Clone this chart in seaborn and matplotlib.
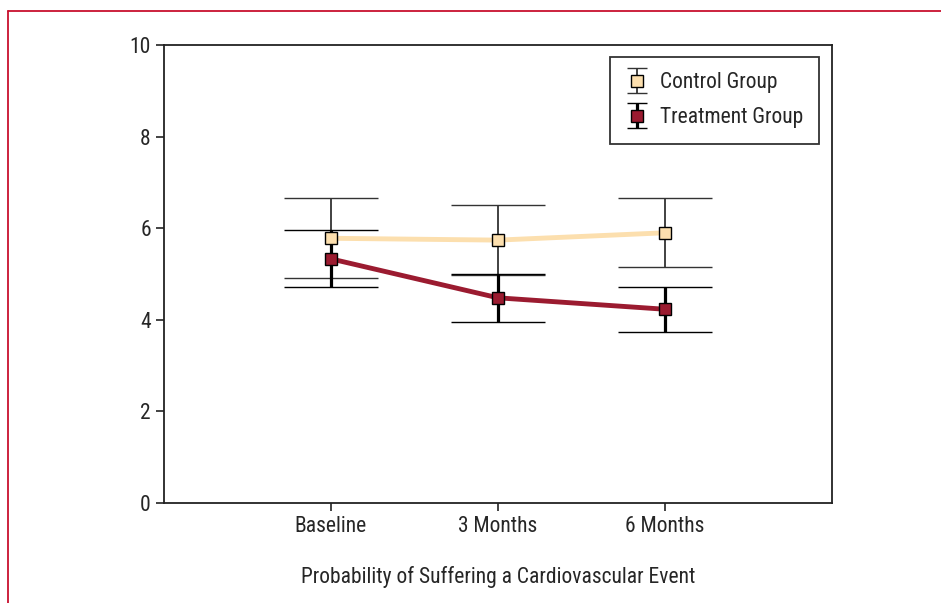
import matplotlib
matplotlib.use("Agg")
import matplotlib.pyplot as plt
from matplotlib import font_manager
from matplotlib.lines import Line2D
from matplotlib.legend_handler import HandlerErrorbar
import seaborn as sns
import pandas as pd
import numpy as np

timepoints = ["Baseline", "3 Months", "6 Months"]
control_mean = [5.78, 5.74, 5.90]
control_err = [0.87, 0.77, 0.75]
treatment_mean = [5.33, 4.48, 4.23]
treatment_err = [0.62, 0.53, 0.49]
groups = ["Control Group", "Treatment Group"]
yticks = [0, 2, 4, 6, 8, 10]
xlabel = "Probability of Suffering a Cardiovascular Event"

sns.set_style("ticks")
names = {f.name for f in font_manager.fontManager.ttflist}
fam = "Roboto"
for cand in ["Roboto Condensed", "Liberation Sans Narrow", "Nimbus Sans Narrow",
             "Archivo Narrow", "Barlow Semi Condensed"]:
    if cand in names:
        fam = cand
        break
plt.rcParams["font.family"] = [fam, "DejaVu Sans"]

df = pd.DataFrame({
    "time": timepoints * 2,
    "x": list(range(3)) * 2,
    "value": control_mean + treatment_mean,
    "group": [groups[0]] * 3 + [groups[1]] * 3,
})

ctrl_color = "#FCDFAE"
trt_color = "#9B1B30"
fs = 15.5

fig = plt.figure(figsize=(9.41, 6.03), dpi=100)
ax = fig.add_axes([164 / 941, 1 - 503 / 603, (832 - 164) / 941, (503 - 45) / 603])

sns.lineplot(data=df, x="x", y="value", hue="group", palette=[ctrl_color, trt_color],
             linewidth=3.5, legend=False, ax=ax, zorder=3)

xs = np.arange(3)
eb_c = ax.errorbar(xs, control_mean, yerr=control_err, fmt="s", ms=8, mfc=ctrl_color,
                   mec="black", mew=1, ecolor="#333333", elinewidth=1.3, capsize=34,
                   capthick=1.3, zorder=2)
eb_t = ax.errorbar(xs, treatment_mean, yerr=treatment_err, fmt="s", ms=8, mfc=trt_color,
                   mec="black", mew=1, ecolor="black", elinewidth=2.3, capsize=34,
                   capthick=2.3, zorder=2)
for line in [eb_c.lines[0], eb_t.lines[0]]:
    line.set_zorder(4)

ax.set_xlim(-1, 3)
ax.set_ylim(0, 10)
ax.set_yticks(yticks)
ax.set_xticks(xs)
ax.set_xticklabels(timepoints)
ax.set_xlabel(xlabel, fontsize=fs, labelpad=21)
ax.set_ylabel("")
ax.tick_params(axis="both", labelsize=fs, length=6, width=1.2, direction="out", color="#222222")
for s in ax.spines.values():
    s.set_linewidth(1.3)
    s.set_color("#222222")

# legend handles (off-view dummy errorbars with small caps)
h_c = ax.errorbar([np.nan], [np.nan], yerr=[0.5], fmt="s", ms=8, mfc=ctrl_color, mec="black",
                  mew=1, ecolor="#333333", elinewidth=1.3, capsize=7.5, capthick=1.3)
h_t = ax.errorbar([np.nan], [np.nan], yerr=[0.5], fmt="s", ms=8, mfc=trt_color, mec="black",
                  mew=1, ecolor="black", elinewidth=2.3, capsize=7.5, capthick=2.3)
leg = ax.legend([h_c, h_t], groups, loc="upper right", bbox_to_anchor=(0.9805, 0.974),
                borderaxespad=0, fontsize=fs, frameon=True, fancybox=False, edgecolor="black",
                handlelength=1.0, handletextpad=0.6, borderpad=0.72, labelspacing=0.65,
                handler_map={type(h_c): HandlerErrorbar(yerr_size=0.58)})
leg.get_frame().set_linewidth(1.3)

red = "#C8102E"
fig.add_artist(Line2D([8 / 941, 1], [1 - 10.5 / 603, 1 - 10.5 / 603], color=red, lw=1.3,
                      transform=fig.transFigure))
fig.add_artist(Line2D([8 / 941, 8 / 941], [0, 1 - 10.5 / 603], color=red, lw=1.3,
                      transform=fig.transFigure))

fig.savefig("out.png", dpi=100)
